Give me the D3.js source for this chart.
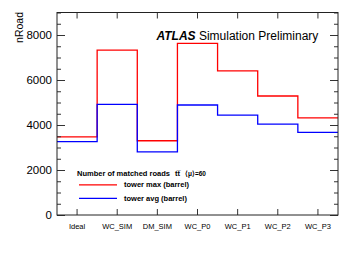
<!DOCTYPE html>
<html>
<head>
<meta charset="utf-8">
<script src="https://cdn.jsdelivr.net/npm/d3@7"></script>
<style>
  body { margin: 0; background: #fff; }
  text { font-family: "Liberation Sans", Arial, sans-serif; }
</style>
</head>
<body>
<div id="canvas"></div>
<script>
"use strict"

let drawingWidth = 356;
let drawingHeight = 256;

// data
let categories = ["Ideal", "WC_SIM", "DM_SIM", "WC_P0", "WC_P1", "WC_P2", "WC_P3"];
let towerMax = [3470, 7330, 3300, 7630, 6410, 5290, 4320];
let towerAvg = [3260, 4920, 2810, 4890, 4440, 4040, 3670];
let yTicks = [0, 2000, 4000, 6000, 8000];

let frameLeft = 57, frameRight = 338, frameTop = 12.5, frameBottom = 215;

let drawing = d3.select("#canvas")
    .append("svg")
    .attr("width", drawingWidth)
    .attr("height", drawingHeight);

drawing.append("rect")
    .attr("width", drawingWidth)
    .attr("height", drawingHeight)
    .attr("fill", "white");

/* scales: bins along x, counts along y */
let x = d3.scaleBand()
    .domain(categories)
    .range([frameLeft, frameRight])
    .paddingInner(0)
    .paddingOuter(0);

let y = d3.scaleLinear()
    .domain([0, 9000])
    .range([frameBottom, frameTop]);

/* histogram outlines as step lines */
function stepPoints(values) {
    let pts = [];
    categories.forEach(function (c, i) {
        pts.push([x(c), y(values[i])]);
        pts.push([x(c) + x.bandwidth(), y(values[i])]);
    });
    return pts;
}

let line = d3.line();

drawing.append("path")
    .attr("d", line(stepPoints(towerMax)))
    .attr("fill", "none")
    .attr("stroke", "#ff0000")
    .attr("stroke-width", 1.3);

drawing.append("path")
    .attr("d", line(stepPoints(towerAvg)))
    .attr("fill", "none")
    .attr("stroke", "#0000ff")
    .attr("stroke-width", 1.3);

/* y axes with minor ticks, pointing inward */
let minorY = d3.range(0, 9001, 500);

let yLeft = drawing.append("g")
    .attr("transform", "translate(" + frameLeft + ",0)")
    .call(d3.axisRight(y).tickValues(minorY).tickSize(4).tickFormat(""));
yLeft.select(".domain").remove();
yLeft.selectAll(".tick").filter(d => d % 2000 === 0).select("line").attr("x2", 8);

let yRight = drawing.append("g")
    .attr("transform", "translate(" + frameRight + ",0)")
    .call(d3.axisLeft(y).tickValues(minorY).tickSize(4).tickFormat(""));
yRight.select(".domain").remove();
yRight.selectAll(".tick").filter(d => d % 2000 === 0).select("line").attr("x2", -8);

/* y tick labels */
drawing.selectAll(".ylabel")
    .data(yTicks)
    .enter()
    .append("text")
    .attr("x", 52)
    .attr("y", d => y(d) + 4)
    .attr("text-anchor", "end")
    .attr("font-size", 11.5)
    .text(d => d);

/* x ticks top and bottom at bin centres */
let xBottom = drawing.append("g")
    .attr("transform", "translate(0," + frameBottom + ")")
    .call(d3.axisTop(x).tickSize(6).tickFormat(""));
xBottom.select(".domain").remove();

let xTop = drawing.append("g")
    .attr("transform", "translate(0," + frameTop + ")")
    .call(d3.axisBottom(x).tickSize(6).tickFormat(""));
xTop.select(".domain").remove();

drawing.selectAll(".tick line").attr("stroke", "#333").attr("stroke-width", 1);

drawing.selectAll(".xlabel")
    .data(categories)
    .enter()
    .append("text")
    .attr("x", d => x(d) + x.bandwidth() / 2)
    .attr("y", 229)
    .attr("text-anchor", "middle")
    .attr("font-size", 7.5)
    .text(d => d);

/* frame */
drawing.append("rect")
    .attr("x", frameLeft)
    .attr("y", frameTop)
    .attr("width", frameRight - frameLeft)
    .attr("height", frameBottom - frameTop)
    .attr("fill", "none")
    .attr("stroke", "#222")
    .attr("stroke-width", 1);

/* y title */
drawing.append("text")
    .attr("transform", "translate(23,12) rotate(-90)")
    .attr("text-anchor", "end")
    .attr("font-size", 10.5)
    .text("nRoad");

/* ATLAS label */
let atlas = drawing.append("text")
    .attr("x", 156.5)
    .attr("y", 39.5)
    .attr("font-size", 12);
atlas.append("tspan")
    .attr("font-weight", "bold")
    .attr("font-style", "italic")
    .text("ATLAS");
atlas.append("tspan")
    .text(" Simulation Preliminary");

/* legend */
let legendTitle = drawing.append("text")
    .attr("x", 77)
    .attr("y", 175.7)
    .attr("font-size", 7.5)
    .attr("font-weight", "bold");
legendTitle.append("tspan").text("Number of matched roads");
legendTitle.append("tspan").attr("dx", 5).text("t\u0074\u0305");
legendTitle.append("tspan").attr("dx", 5).attr("font-size", 6.5).text("\u27e8\u03bc\u27e9=60");

let legendItems = [
    { label: "tower max (barrel)", color: "#ff0000" },
    { label: "tower avg (barrel)", color: "#0000ff" }
];

legendItems.forEach(function (item, i) {
    let ly = 184.8 + i * 13.5;
    drawing.append("line")
        .attr("x1", 79)
        .attr("x2", 117)
        .attr("y1", ly)
        .attr("y2", ly)
        .attr("stroke", item.color)
        .attr("stroke-width", 1.3);
    drawing.append("text")
        .attr("x", 124)
        .attr("y", ly + 2.5)
        .attr("font-size", 7.5)
        .attr("font-weight", "bold")
        .text(item.label);
});
</script>
</body>
</html>
